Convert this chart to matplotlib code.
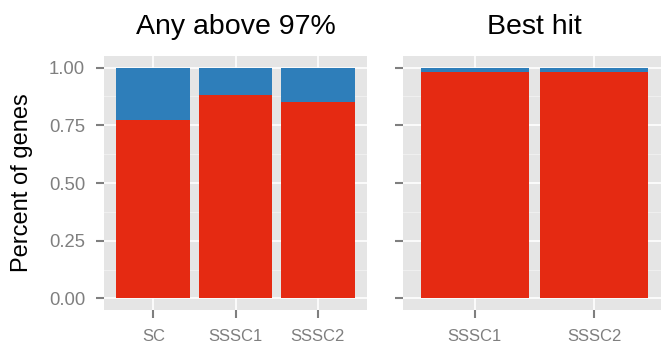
import matplotlib
matplotlib.use("Agg")
import matplotlib.pyplot as plt
import numpy as np

plt.rcParams['font.family'] = ['Liberation Sans', 'DejaVu Sans']

# data: fraction of genes (red = hit, blue = remainder)
any_samples = ["SC", "SSSC1", "SSSC2"]
any_hit = [0.775, 0.880, 0.851]
best_samples = ["SSSC1", "SSSC2"]
best_hit = [0.980, 0.981]

yticks = [0.0, 0.25, 0.5, 0.75, 1.0]
ytick_labels = ["0.00", "0.25", "0.50", "0.75", "1.00"]

RED = "#E52A12"
BLUE = "#2E7EBA"
PANEL = "#E5E5E5"
TICKGREY = "#7F7F7F"

W, H = 661, 356
fig = plt.figure(figsize=(W / 100, H / 100), dpi=100)


def px_axes(x0, y0, x1, y1):
    return fig.add_axes([x0 / W, 1 - y1 / H, (x1 - x0) / W, (y1 - y0) / H])


def draw_panel(ax, samples, hit, title, show_ylabels):
    x = np.arange(1, len(samples) + 1)
    hit = np.array(hit)
    ax.set_facecolor(PANEL)
    ax.bar(x, hit, width=0.9, color=RED, zorder=3)
    ax.bar(x, 1 - hit, bottom=hit, width=0.9, color=BLUE, zorder=3)
    ax.set_xlim(0.4, len(samples) + 0.6)
    ax.set_ylim(-0.05, 1.05)
    ax.set_xticks(x)
    ax.set_xticklabels(samples, fontsize=12, color=TICKGREY)
    ax.set_yticks(yticks)
    ax.set_yticks([0.125, 0.375, 0.625, 0.875], minor=True)
    if show_ylabels:
        ax.set_yticklabels(ytick_labels, fontsize=13.3, color=TICKGREY)
    else:
        ax.set_yticklabels([])
    ax.grid(True, which="major", color="white", linewidth=1.2, zorder=0)
    ax.grid(True, which="minor", axis="y", color="#F2F2F2", linewidth=0.6, zorder=0)
    ax.set_axisbelow(True)
    ax.tick_params(axis="both", which="major", length=5.5, width=1.5,
                   color=TICKGREY)
    ax.tick_params(axis="x", pad=8)
    ax.tick_params(axis="y", pad=8)
    ax.tick_params(axis="y", which="minor", length=0)
    for s in ax.spines.values():
        s.set_visible(False)
    ax.set_title(title, fontsize=20.5, pad=16)


ax1 = px_axes(104, 56, 367, 310)
draw_panel(ax1, any_samples, any_hit, "Any above 97%", True)
ax1.set_ylabel("Percent of genes", fontsize=17)
ax1.yaxis.set_label_coords(-71 / 263, 0.5)

ax2 = px_axes(403, 56, 666, 310)
draw_panel(ax2, best_samples, best_hit, "Best hit", False)

fig.savefig("out.png", dpi=100, facecolor="white")
